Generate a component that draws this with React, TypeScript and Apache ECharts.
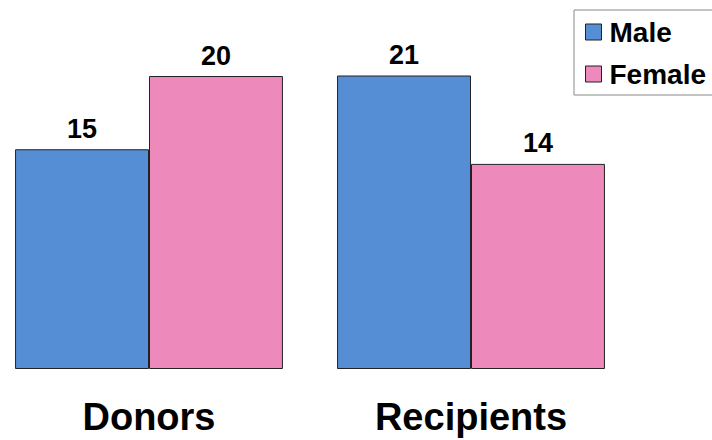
import React, { useEffect, useRef } from "react";
import * as echarts from "echarts";

const categories = ["Donors", "Recipients"];
const seriesNames = ["Male", "Female"];
const maleValues = [15, 21];
const femaleValues = [20, 14];
const axisMax = 20;

const FONT = "'Liberation Sans', Arial, sans-serif";

export default function App() {
  const ref = useRef<HTMLDivElement>(null);
  useEffect(() => {
    if (!ref.current) return;
    const chart = echarts.init(ref.current, null, { renderer: "svg" });
    const label = {
      show: true,
      position: "top" as const,
      distance: 7,
      color: "#000",
      fontFamily: FONT,
      fontWeight: "bold" as const,
      fontSize: 27,
    };
    chart.setOption({
      animation: false,
      backgroundColor: "#fff",
      textStyle: { fontFamily: FONT },
      legend: {
        orient: "vertical",
        left: 574,
        top: 10,
        padding: [8, 30, 7, 11],
        itemGap: 14,
        itemWidth: 16,
        itemHeight: 16,
        borderColor: "#888",
        borderWidth: 1,
        backgroundColor: "#fff",
        icon: "rect",
        itemStyle: { borderColor: "#222", borderWidth: 1 },
        textStyle: {
          fontFamily: FONT,
          fontWeight: "bold",
          fontSize: 28,
          lineHeight: 28,
          color: "#000",
          padding: [0, 0, 0, 3],
        },
        data: seriesNames,
      },
      grid: {
        left: -12,
        right: 80,
        top: 76,
        bottom: 71,
        outerBoundsMode: "none",
        containLabel: false,
      },
      xAxis: {
        type: "category",
        data: categories,
        axisLine: { show: false },
        axisTick: { show: false },
        axisLabel: {
          margin: 29,
          color: "#000",
          fontFamily: FONT,
          fontWeight: "bold",
          fontSize: 38,
        },
      },
      yAxis: {
        type: "value",
        min: 0,
        max: axisMax,
        show: false,
        splitLine: { show: false },
      },
      series: [
        {
          name: seriesNames[0],
          type: "bar",
          data: maleValues,
          barGap: "0%",
          barCategoryGap: "16.8%",
          clip: true,
          itemStyle: { color: "#558ED5", borderColor: "#222", borderWidth: 1 },
          label,
        },
        {
          name: seriesNames[1],
          type: "bar",
          data: femaleValues,
          clip: true,
          itemStyle: { color: "#EE89BC", borderColor: "#222", borderWidth: 1 },
          label,
        },
      ],
    });
    return () => chart.dispose();
  }, []);
  return (
    <div
      ref={ref}
      style={{ position: "fixed", left: 0, top: 0, width: 712, height: 440 }}
    />
  );
}
